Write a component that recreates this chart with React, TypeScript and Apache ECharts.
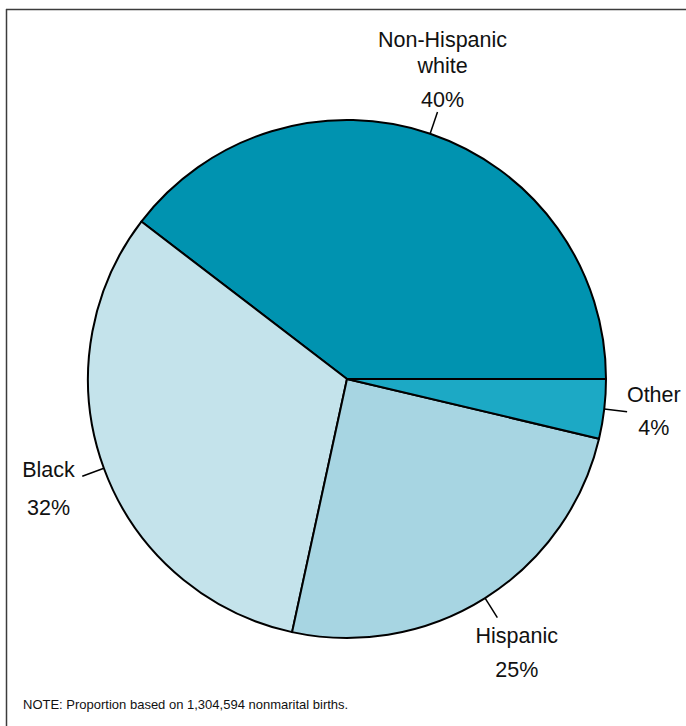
import React, { useEffect, useRef } from "react";
import * as echarts from "echarts";

// ---- data ----
const categories = ["Non-Hispanic white", "Black", "Hispanic", "Other"];
const labelNames = ["Non-Hispanic\nwhite", "Black", "Hispanic", "Other"];
const shares = [39.6, 32.0, 24.7, 3.7];
const shownPercents = ["40%", "32%", "25%", "4%"];
const sliceColors = ["#0093B0", "#C4E3EB", "#A7D5E2", "#1CA9C5"];
const noteText = "NOTE: Proportion based on 1,304,594 nonmarital births.";

// ---- layout (not data) ----
const CX = 347;
const CY = 379;
const R = 259;
const LINE_LEN = 23;
const FONT = '"Liberation Sans", Arial, Helvetica, sans-serif';
const labelPlacement = [
  { dx: 5, dy: -84.6, lh1: 26, lh2: 41 },
  { dx: -33.8, dy: -24.6, lh1: 37.5, lh2: 37.5 },
  { dx: 19.4, dy: 1.7, lh1: 34, lh2: 34 },
  { dx: 26.7, dy: -32.9, lh1: 33, lh2: 33 },
];

export default function App() {
  const ref = useRef<HTMLDivElement>(null);

  useEffect(() => {
    if (!ref.current) return;
    const chart = echarts.init(ref.current, null, { renderer: "svg" });

    const total = shares.reduce((a, b) => a + b, 0);
    const midAngles: number[] = [];
    let cum = 0;
    shares.forEach((v) => {
      midAngles.push(((cum + v / 2) / total) * 2 * Math.PI);
      cum += v;
    });

    const rich: Record<string, any> = {};
    labelPlacement.forEach((p, i) => {
      rich["n" + i] = { fontSize: 21.5, fontFamily: FONT, color: "#111", lineHeight: p.lh1 };
      rich["p" + i] = { fontSize: 21.5, fontFamily: FONT, color: "#111", lineHeight: p.lh2 };
    });

    chart.setOption({
      animation: false,
      backgroundColor: "#ffffff",
      graphic: [
        {
          type: "line",
          shape: { x1: 6, y1: 9.5, x2: 686, y2: 9.5 },
          style: { stroke: "#3c3c3c", lineWidth: 1.5 },
        },
        {
          type: "line",
          shape: { x1: 6.5, y1: 9, x2: 6.5, y2: 726 },
          style: { stroke: "#3c3c3c", lineWidth: 1.5 },
        },
        {
          type: "text",
          left: 23,
          top: 698,
          style: { text: noteText, fontSize: 13, fontFamily: FONT, fill: "#111" },
        },
      ],
      series: [
        {
          type: "pie",
          center: [CX, CY],
          radius: R,
          startAngle: 0,
          clockwise: false,
          avoidLabelOverlap: false,
          itemStyle: { borderColor: "#000", borderWidth: 2 },
          label: {
            show: true,
            position: "outside",
            formatter: (p: any) => {
              const i = p.dataIndex;
              const lines = labelNames[i].split("\n").map((l) => `{n${i}|${l}}`);
              return lines.join("\n") + `\n{p${i}|${shownPercents[i]}}`;
            },
            rich,
          },
          labelLine: {
            show: true,
            length: LINE_LEN,
            length2: 0,
            lineStyle: { color: "#000", width: 1.5 },
          },
          labelLayout: (params: any) => {
            const i = params.dataIndex;
            const a = midAngles[i];
            const sx = CX + R * Math.cos(a);
            const sy = CY - R * Math.sin(a);
            const ex = CX + (R + LINE_LEN) * Math.cos(a);
            const ey = CY - (R + LINE_LEN) * Math.sin(a);
            const pl = labelPlacement[i];
            return {
              x: ex + pl.dx,
              y: ey + pl.dy,
              align: "center",
              verticalAlign: "top",
              labelLinePoints: [
                [sx, sy],
                [ex, ey],
                [ex, ey],
              ],
            };
          },
          emphasis: { disabled: true },
          data: categories.map((name, i) => ({
            name,
            value: shares[i],
            itemStyle: { color: sliceColors[i] },
          })),
        },
      ],
    });

    return () => chart.dispose();
  }, []);

  return (
    <div
      ref={ref}
      style={{ position: "fixed", left: 0, top: 0, width: 686, height: 726 }}
    />
  );
}
